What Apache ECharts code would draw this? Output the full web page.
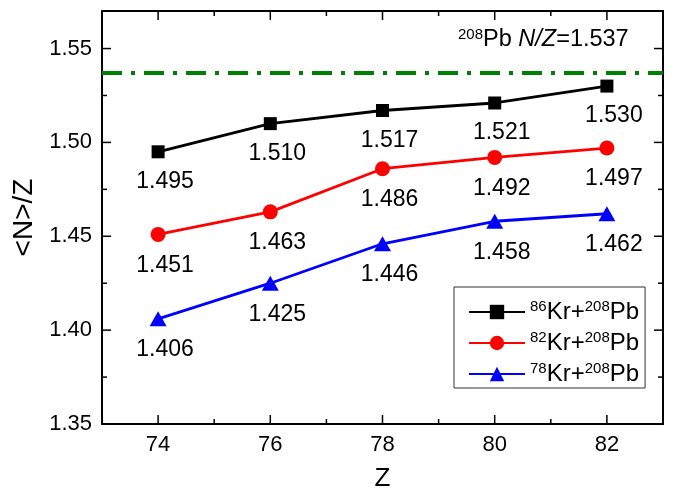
<!DOCTYPE html>
<html>
<head>
<meta charset="utf-8">
<script src="https://cdn.jsdelivr.net/npm/echarts@6/dist/echarts.min.js"></script>
<style>
  html, body { margin: 0; padding: 0; background: #fff; }
  #chart { width: 683px; height: 493px; }
</style>
</head>
<body>
<div id="chart"></div>
<script>
// Proton number of the fragments
const zValues = [74, 76, 78, 80, 82];

// <N>/Z of the fragments for each reaction
const kr86Pb208 = [1.495, 1.510, 1.517, 1.521, 1.530];
const kr82Pb208 = [1.451, 1.463, 1.486, 1.492, 1.497];
const kr78Pb208 = [1.406, 1.425, 1.446, 1.458, 1.462];

// N/Z of the 208Pb target
const pb208NZ = 1.537;

// Axis ranges and ticks
const xRange = [73, 83];
const yRange = [1.35, 1.57];
const xMajorTicks = [74, 76, 78, 80, 82];
const xMinorTicks = [75, 77, 79, 81];
const yMajorTicks = [1.35, 1.40, 1.45, 1.50, 1.55];
const yMinorTicks = [1.375, 1.425, 1.475, 1.525];

const seriesNames = ['86Kr+208Pb', '82Kr+208Pb', '78Kr+208Pb'];

const FONT = 'Liberation Sans, Arial, sans-serif';
const AXIS_COLOR = '#000';
const MAJOR_LEN = 9;
const MINOR_LEN = 5;

function pairs(ys) {
  return zValues.map((z, i) => [z, ys[i]]);
}

function reactionSeries(name, values, color, symbol, size) {
  return {
    name: name,
    type: 'line',
    xAxisIndex: 0,
    yAxisIndex: 0,
    data: pairs(values),
    symbol: symbol,
    symbolSize: size,
    showAllSymbol: true,
    lineStyle: { color: color, width: 2.8 },
    itemStyle: { color: color },
    label: {
      show: true,
      position: 'bottom',
      distance: 12,
      offset: [7, 0],
      color: '#000',
      fontFamily: FONT,
      fontSize: 23,
      formatter: p => p.value[1].toFixed(3)
    },
    emphasis: { disabled: true },
    z: 3
  };
}

function xAxisSide(position, withLabels) {
  return {
    type: 'value',
    position: position,
    min: xRange[0],
    max: xRange[1],
    splitLine: { show: false },
    axisLine: { show: true, onZero: false, lineStyle: { color: AXIS_COLOR, width: 2 } },
    axisTick: { show: false },
    axisLabel: withLabels
      ? { customValues: xMajorTicks, margin: 10, fontFamily: FONT, fontSize: 22, color: '#000' }
      : { show: false }
  };
}

function yAxisSide(position, withLabels) {
  return {
    type: 'value',
    position: position,
    min: yRange[0],
    max: yRange[1],
    splitLine: { show: false },
    axisLine: { show: true, onZero: false, lineStyle: { color: AXIS_COLOR, width: 2 } },
    axisTick: { show: false },
    axisLabel: withLabels
      ? { customValues: yMajorTicks, margin: 10, fontFamily: FONT, fontSize: 22, color: '#000', formatter: v => v.toFixed(2) }
      : { show: false }
  };
}

const chart = echarts.init(document.getElementById('chart'));

const richLegend = {
  sup: { fontSize: 15, fontFamily: FONT, fontWeight: 'normal', color: '#000', verticalAlign: 'top', lineHeight: 26 },
  t: { fontSize: 24, fontFamily: FONT, fontWeight: 'normal', color: '#000', lineHeight: 26 }
};

const xBottom = Object.assign(xAxisSide('bottom', true), {
  name: 'Z',
  nameLocation: 'middle',
  nameGap: 42,
  nameTextStyle: { fontFamily: FONT, fontSize: 26, color: '#000' }
});
const yLeft = Object.assign(yAxisSide('left', true), {
  name: '<N>/Z',
  nameLocation: 'middle',
  nameRotate: 90,
  nameGap: 62,
  nameTextStyle: { fontFamily: FONT, fontSize: 28, color: '#000' }
});

chart.setOption({
  animation: false,
  backgroundColor: '#fff',
  title: {
    text: '{sup|208}{t|Pb }{it|N/Z}{t|=1.537}',
    left: 458,
    top: 27,
    padding: 0,
    textStyle: {
      fontWeight: 'normal',
      rich: {
        sup: { fontSize: 15, fontFamily: FONT, fontWeight: 'normal', color: '#000', verticalAlign: 'top', lineHeight: 25 },
        t: { fontSize: 23.5, fontFamily: FONT, fontWeight: 'normal', color: '#000', lineHeight: 25 },
        it: { fontSize: 23.5, fontFamily: FONT, fontWeight: 'normal', fontStyle: 'italic', color: '#000', lineHeight: 25 }
      }
    }
  },
  legend: {
    orient: 'vertical',
    left: 454,
    top: 287,
    padding: [12, 6, 2, 14],
    itemWidth: 56,
    itemHeight: 18,
    itemGap: 6,
    borderColor: '#333',
    borderWidth: 1,
    backgroundColor: '#fff',
    data: seriesNames,
    formatter: name => {
      const m = name.match(/^(\d+)Kr\+(\d+)Pb$/);
      return '{sup|' + m[1] + '}{t|Kr+}{sup|' + m[2] + '}{t|Pb}';
    },
    textStyle: { rich: richLegend }
  },
  grid: { left: 102, right: 20, top: 11, bottom: 69, containLabel: false, outerBoundsMode: 'none' },
  xAxis: [xBottom, xAxisSide('top', false)],
  yAxis: [yLeft, yAxisSide('right', false)],
  series: [
    Object.assign(reactionSeries(seriesNames[0], kr86Pb208, '#000000', 'rect', 13), {
      markLine: {
        silent: true,
        precision: 3,
        symbol: ['none', 'none'],
        label: { show: false },
        emphasis: { disabled: true },
        lineStyle: {
          color: '#008000',
          width: 4,
          type: [20, 9, 4, 9]
        },
        data: [{ yAxis: pb208NZ }]
      }
    }),
    reactionSeries(seriesNames[1], kr82Pb208, '#ff0000', 'circle', 15),
    reactionSeries(seriesNames[2], kr78Pb208, '#0000ff', 'triangle', [17, 15])
  ]
});

// Inward frame ticks on all four sides, positioned through the grid's scales
function frameTicks() {
  const toPx = (x, y) => chart.convertToPixel({ gridIndex: 0 }, [x, y]);
  const els = [];
  const seg = (x1, y1, x2, y2) => els.push({
    type: 'line',
    silent: true,
    z: 100,
    shape: { x1: x1, y1: y1, x2: x2, y2: y2 },
    style: { stroke: AXIS_COLOR, lineWidth: 1.5 }
  });
  const xTick = (v, len) => {
    const b = toPx(v, yRange[0]);
    const t = toPx(v, yRange[1]);
    seg(b[0], b[1], b[0], b[1] - len);
    seg(t[0], t[1], t[0], t[1] + len);
  };
  const yTick = (v, len) => {
    const l = toPx(xRange[0], v);
    const r = toPx(xRange[1], v);
    seg(l[0], l[1], l[0] + len, l[1]);
    seg(r[0], r[1], r[0] - len, r[1]);
  };
  xMajorTicks.forEach(v => xTick(v, MAJOR_LEN));
  xMinorTicks.forEach(v => xTick(v, MINOR_LEN));
  yMajorTicks.forEach(v => yTick(v, MAJOR_LEN));
  yMinorTicks.forEach(v => yTick(v, MINOR_LEN));
  chart.setOption({ graphic: { elements: els } });
}
frameTicks();
</script>
</body>
</html>
